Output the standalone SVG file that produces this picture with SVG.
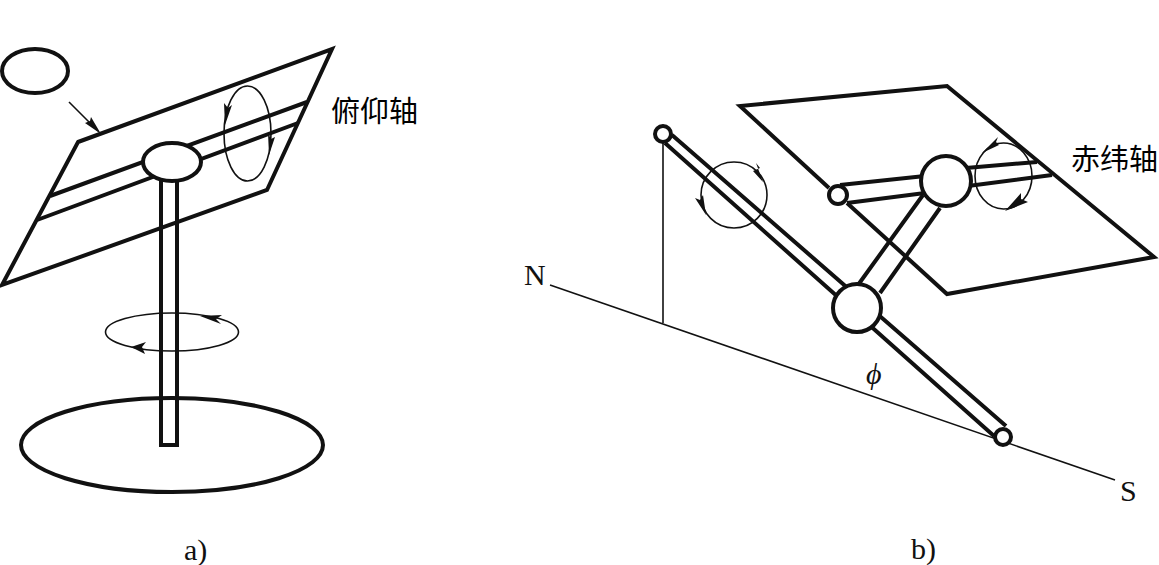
<svg xmlns="http://www.w3.org/2000/svg" width="1159" height="565" viewBox="0 0 1159 565">
<style>
.k{fill:none;stroke:#111;stroke-width:4;stroke-linejoin:miter}
.h{fill:#fff;stroke:#111;stroke-width:4}
.t{fill:none;stroke:#111;stroke-width:1.6}
.a{fill:#111;stroke:none}
.cn{font-family:"Noto Sans CJK SC","Liberation Serif",serif;font-size:29px;fill:#000}
.l{font-family:"Liberation Serif",serif;font-size:30px;fill:#111}
</style>
<rect width="1159" height="565" fill="#fff"/>
<g id="connectors">
<path class="t" d="M69 102L98 131"/>
<path class="t" d="M550 285L1115 480"/>
<path class="t" d="M663 142V323"/>
</g>
<g id="panel-a">
<path class="k" d="M78 142L332 49L267 190L2 285Z"/>
<path class="k" d="M50 196L307 102M37 220L298 123"/>
<path class="k" d="M161 170V445H177V170"/>
<ellipse class="h" cx="172" cy="162" rx="29" ry="19"/>
<ellipse class="k" cx="35" cy="71" rx="33" ry="22"/>
<ellipse class="k" cx="172" cy="445" rx="151" ry="47"/>
<ellipse class="t" cx="247.5" cy="133.5" rx="23.5" ry="47.5"/>
<ellipse class="t" cx="172" cy="332" rx="66.5" ry="19"/>
<path class="a" d="M101 134L85 123L90 121L91 117Z"/>
<path class="a" d="M225 125L224 103L228 108L232 105Z"/>
<path class="a" d="M269 155L268 133L271 139L275 137Z"/>
<path class="a" d="M200 316L222 315L216 319L221 324Z"/>
<path class="a" d="M131 347L146 342L142 347L145 354Z"/>
</g>
<g id="panel-b">
<path class="k" d="M829 188L740 106L947 86L1154 257L947 294L847 203"/>
<path class="k" d="M840 185L925 176M847 203L925 193M966 168L1037 162M968 186L1052 175"/>
<path class="k" d="M858 285L923 195M880 293L940 208"/>
<path class="k" d="M672 135L1006 426M665 143L994 436"/>
<circle class="h" cx="946" cy="181" r="25"/>
<circle class="h" cx="857" cy="308" r="24"/>
<circle class="h" cx="838" cy="195" r="9"/>
<circle class="h" cx="663" cy="134" r="8"/>
<circle class="h" cx="1003" cy="437" r="8"/>
<ellipse class="t" cx="734" cy="195" rx="33" ry="33"/>
<ellipse class="t" cx="1003.5" cy="176" rx="28.5" ry="33"/>
<path class="a" d="M763 182L756 163L760 168L753 171Z"/>
<path class="a" d="M706 215L695 198L700 200L703 195Z"/>
<path class="a" d="M982 153L998 137L996 142L999 145Z"/>
<path class="a" d="M1005 211L1021 193L1021 199L1028 202Z"/>
</g>
<g id="labels">
<text class="cn" x="331" y="122">俯仰轴</text>
<text class="cn" x="1071" y="170">赤纬轴</text>
<text class="l" x="184" y="560">a)</text>
<text class="l" x="911" y="559">b)</text>
<text class="l" x="524" y="285">N</text>
<text class="l" x="1120" y="501">S</text>
<text class="l" x="866" y="384" font-style="italic">ϕ</text>
</g>
</svg>
